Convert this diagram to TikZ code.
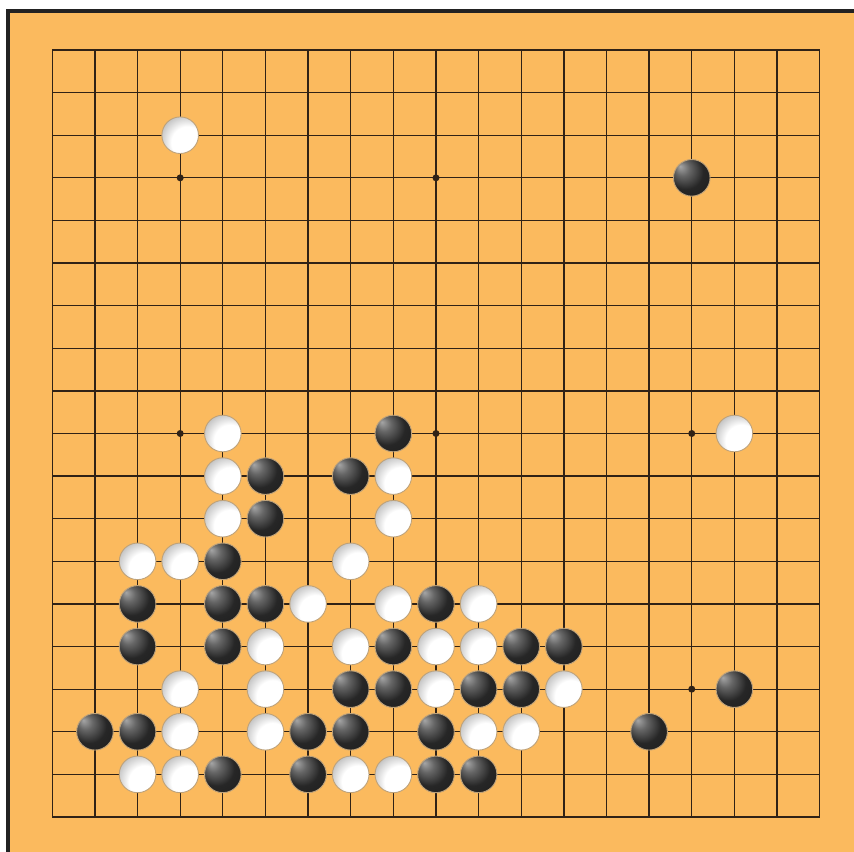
\documentclass[tikz,border=0pt]{standalone}
\definecolor{boardorange}{RGB}{251,186,94}
\definecolor{gridcol}{RGB}{48,34,22}
\definecolor{stoneedge}{RGB}{190,162,122}
\definecolor{framecol}{RGB}{34,34,34}
\pgfdeclareradialshading{blackstone}{\pgfpoint{-16bp}{16bp}}{color(0bp)=(black!35); color(10bp)=(black!60); color(24bp)=(black!85); color(50bp)=(black!90)}
\pgfdeclareradialshading{whitestone}{\pgfpoint{18bp}{-18bp}}{color(0bp)=(white); color(22bp)=(white); color(42bp)=(black!40); color(50bp)=(black!50)}
\tikzset{
  gridline/.style={draw=gridcol, line width=1.3bp},
  starpt/.style={circle, fill=gridcol, inner sep=0pt, minimum size=7bp},
  wstone/.style={circle, inner sep=0pt, minimum size=36.6bp, draw=stoneedge, line width=0.9bp, shading=whitestone},
  bstone/.style={circle, inner sep=0pt, minimum size=36.6bp, draw=stoneedge, line width=0.9bp, shading=blackstone},
}
\begin{document}
\begin{tikzpicture}[x=1bp, y=-1bp]
\useasboundingbox (0,0) rectangle (854,852);
\fill[white] (0,0) rectangle (854,852);
\fill[boardorange] (8,11) rectangle (854,852);
\draw[framecol, line width=3.6bp] (8,852) -- (8,11) -- (854,11);
% grid
\foreach \i in {0,...,18} {
  \draw[gridline] ({52.3+42.63*\i},50) -- ({52.3+42.63*\i},817);
  \draw[gridline] (52.3,{50+42.61*\i}) -- (819.7,{50+42.61*\i});
}
% star points
\foreach \c/\r in {3/3,9/3,15/3,3/9,9/9,15/9,3/15,9/15,15/15}
  \node[starpt] (hoshi-\c-\r) at ({52.3+42.63*\c},{50+42.61*\r}) {};
% white stones
\foreach \c/\r in {3/2,4/9,16/9,4/10,8/10,4/11,8/11,2/12,3/12,7/12,6/13,8/13,10/13,5/14,7/14,9/14,10/14,3/15,5/15,9/15,12/15,3/16,5/16,10/16,11/16,2/17,3/17,7/17,8/17}
  \node[wstone] (w-\c-\r) at ({52.3+42.63*\c},{50+42.61*\r}) {};
% black stones
\foreach \c/\r in {15/3,8/9,5/10,7/10,5/11,4/12,2/13,4/13,5/13,9/13,2/14,4/14,8/14,11/14,12/14,7/15,8/15,10/15,11/15,16/15,1/16,2/16,6/16,7/16,9/16,14/16,4/17,6/17,9/17,10/17}
  \node[bstone] (b-\c-\r) at ({52.3+42.63*\c},{50+42.61*\r}) {};
\end{tikzpicture}
\end{document}
